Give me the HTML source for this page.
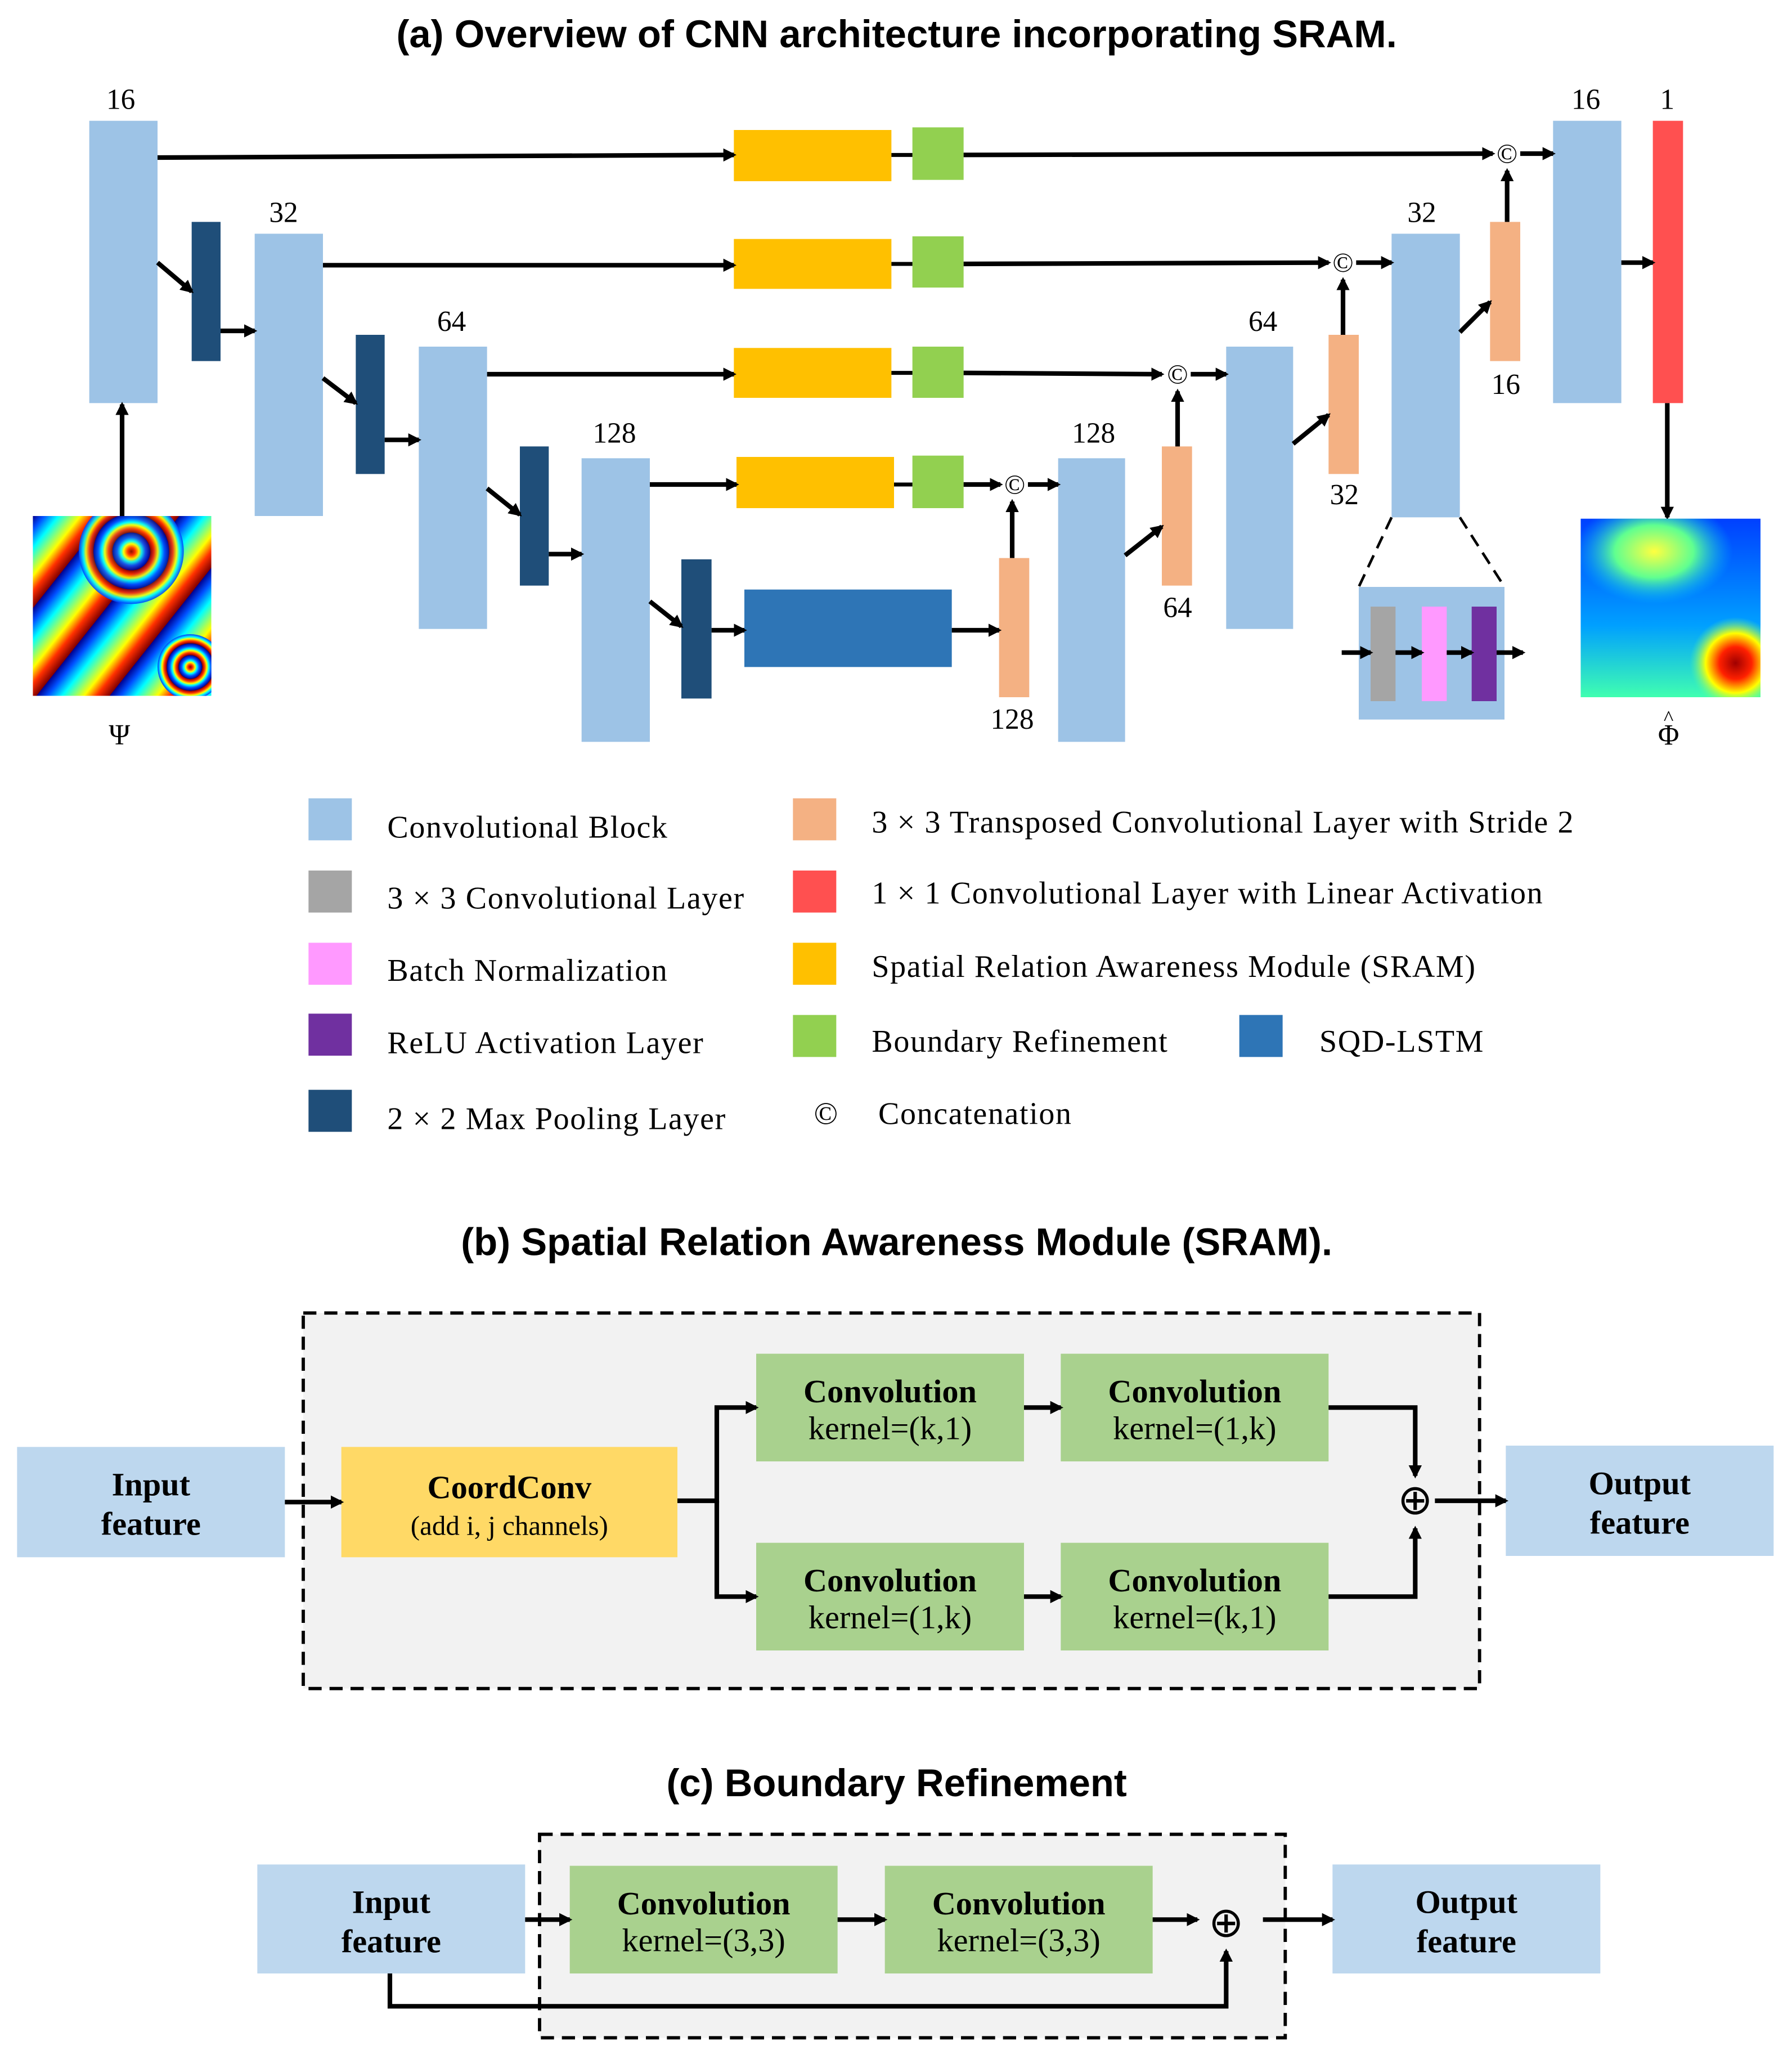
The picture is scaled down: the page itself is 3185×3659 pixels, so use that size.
<!DOCTYPE html>
<html><head><meta charset="utf-8"><style>html,body{margin:0;padding:0;background:#fff}</style></head>
<body>
<svg xmlns="http://www.w3.org/2000/svg" width="3185" height="3654" viewBox="0 0 1365 1566">
<defs>
<marker id="a" markerWidth="10" markerHeight="10" refX="8" refY="5" orient="auto" markerUnits="userSpaceOnUse"><path d="M0,0 L10,5 L0,10 z" fill="#000"/></marker>
<linearGradient id="jet" x1="0" y1="0" x2="0.25" y2="0.2" spreadMethod="repeat">
<stop offset="0" stop-color="#00008f"/><stop offset="0.15" stop-color="#0050ff"/><stop offset="0.35" stop-color="#00ffff"/><stop offset="0.5" stop-color="#80ff80"/><stop offset="0.65" stop-color="#ffff00"/><stop offset="0.82" stop-color="#ff3000"/><stop offset="1" stop-color="#800000"/></linearGradient>
<radialGradient id="ring" cx="0.5" cy="0.5" r="0.18" spreadMethod="repeat">
<stop offset="0" stop-color="#800000"/><stop offset="0.2" stop-color="#ff3000"/><stop offset="0.4" stop-color="#ffff00"/><stop offset="0.55" stop-color="#00ffff"/><stop offset="0.75" stop-color="#0050ff"/><stop offset="1" stop-color="#00008f"/></radialGradient>
<radialGradient id="yb" cx="0.5" cy="0.5" r="0.5"><stop offset="0" stop-color="#ffff40"/><stop offset="0.5" stop-color="#60ff90"/><stop offset="1" stop-color="#00c0ff" stop-opacity="0"/></radialGradient>
<radialGradient id="rb" cx="0.5" cy="0.5" r="0.5"><stop offset="0" stop-color="#a00000"/><stop offset="0.35" stop-color="#ff2000"/><stop offset="0.65" stop-color="#ffff00"/><stop offset="1" stop-color="#60ff90" stop-opacity="0"/></radialGradient>
<linearGradient id="bg2" x1="0" y1="0" x2="0" y2="1"><stop offset="0" stop-color="#0040ff"/><stop offset="0.6" stop-color="#00a0ff"/><stop offset="1" stop-color="#40ffb0"/></linearGradient>
<clipPath id="c1"><rect x="25" y="393" width="136" height="137"/></clipPath>
<clipPath id="c2"><rect x="1204" y="395" width="137" height="136"/></clipPath>
</defs>
<style>
.t{font-family:"Liberation Sans",sans-serif;font-weight:bold;font-size:29.5px;text-anchor:middle}
.s{font-family:"Liberation Serif",serif;font-size:24px;letter-spacing:0.7px}
.n{font-family:"Liberation Serif",serif;font-size:22px;text-anchor:middle}
.bx{font-family:"Liberation Serif",serif;font-size:25px;text-anchor:middle}
.b{font-weight:bold}
line,path.l{stroke:#000;stroke-width:3.5;fill:none}
</style>
<text class="t" x="683" y="36">(a) Overview of CNN architecture incorporating SRAM.</text>
<g fill="#9DC3E6">
<rect x="68" y="92" width="52" height="215"/><rect x="194" y="178" width="52" height="215"/><rect x="319" y="264" width="52" height="215"/><rect x="443" y="349" width="52" height="216"/>
<rect x="806" y="349" width="51" height="216"/><rect x="934" y="264" width="51" height="215"/><rect x="1060" y="178" width="52" height="216"/><rect x="1183" y="92" width="52" height="215"/>
<rect x="1035" y="447" width="111" height="101"/></g>
<g fill="#1F4E79"><rect x="146" y="169" width="22" height="106"/><rect x="271" y="255" width="22" height="106"/><rect x="396" y="340" width="22" height="106"/><rect x="519" y="426" width="23" height="106"/></g>
<rect x="567" y="449" width="158" height="59" fill="#2E75B6"/>
<g fill="#FFC000"><rect x="559" y="99" width="120" height="39"/><rect x="559" y="182" width="120" height="38"/><rect x="559" y="265" width="120" height="38"/><rect x="561" y="348" width="120" height="39"/></g>
<g fill="#92D050"><rect x="695" y="97" width="39" height="40"/><rect x="695" y="180" width="39" height="39"/><rect x="695" y="264" width="39" height="39"/><rect x="695" y="347" width="39" height="40"/></g>
<g fill="#F4B183"><rect x="761" y="425" width="23" height="106"/><rect x="885" y="340" width="23" height="106"/><rect x="1012" y="255" width="23" height="106"/><rect x="1135" y="169" width="23" height="106"/></g>
<rect x="1259" y="92" width="23" height="215" fill="#FF5050"/>
<rect x="1044" y="462" width="19" height="72" fill="#A5A5A5"/><rect x="1083" y="462" width="19" height="72" fill="#FF99FF"/><rect x="1121" y="462" width="19" height="72" fill="#7030A0"/>
<g class="n"><text x="92" y="83">16</text><text x="216" y="169">32</text><text x="344" y="252">64</text><text x="468" y="337">128</text>
<text x="833" y="337">128</text><text x="962" y="252">64</text><text x="1083" y="169">32</text><text x="1208" y="83">16</text><text x="1270" y="83">1</text>
<text x="771" y="555">128</text><text x="897" y="470">64</text><text x="1024" y="384">32</text><text x="1147" y="300">16</text>
<text x="91" y="567">Ψ</text><text x="1271" y="567">Φ</text><text x="1271" y="552" style="font-size:16px">^</text></g>
<g class="n" style="font-size:21px"><text x="773" y="376">©</text><text x="897" y="292">©</text><text x="1023" y="207">©</text><text x="1148" y="124">©</text></g>
<g marker-end="url(#a)">
<line x1="120" y1="120" x2="559" y2="118"/><line x1="734" y1="118" x2="1137" y2="117"/>
<line x1="246" y1="202" x2="559" y2="202"/><line x1="734" y1="201" x2="1012" y2="200"/>
<line x1="371" y1="285" x2="559" y2="285"/><line x1="734" y1="284" x2="885" y2="285"/>
<line x1="495" y1="369" x2="561" y2="369"/><line x1="734" y1="369" x2="762" y2="369"/>
<line x1="783" y1="369" x2="806" y2="369"/><line x1="907" y1="285" x2="934" y2="285"/><line x1="1033" y1="200" x2="1060" y2="200"/><line x1="1158" y1="117" x2="1183" y2="117"/>
<line x1="771" y1="425" x2="771" y2="382"/><line x1="897" y1="340" x2="897" y2="298"/><line x1="1023" y1="255" x2="1023" y2="213"/><line x1="1148" y1="169" x2="1148" y2="130"/>
<line x1="120" y1="200" x2="146" y2="222"/><line x1="168" y1="252" x2="194" y2="252"/><line x1="246" y1="288" x2="271" y2="307"/><line x1="293" y1="335" x2="319" y2="335"/>
<line x1="371" y1="372" x2="396" y2="392"/><line x1="418" y1="422" x2="443" y2="422"/><line x1="495" y1="458" x2="519" y2="477"/><line x1="542" y1="480" x2="567" y2="480"/>
<line x1="725" y1="480" x2="761" y2="480"/><line x1="857" y1="423" x2="885" y2="401"/><line x1="985" y1="338" x2="1012" y2="316"/><line x1="1112" y1="253" x2="1135" y2="230"/>
<line x1="1235" y1="200" x2="1259" y2="200"/><line x1="1270" y1="307" x2="1270" y2="394"/><line x1="93" y1="393" x2="93" y2="308"/>
<line x1="1022" y1="497" x2="1044" y2="497"/><line x1="1063" y1="497" x2="1083" y2="497"/><line x1="1102" y1="497" x2="1121" y2="497"/><line x1="1140" y1="497" x2="1160" y2="497"/>
</g>
<line x1="679" y1="118" x2="695" y2="118" style="stroke-width:3"/><line x1="679" y1="201" x2="695" y2="201" style="stroke-width:3"/><line x1="679" y1="284" x2="695" y2="284" style="stroke-width:3"/><line x1="681" y1="369" x2="695" y2="369" style="stroke-width:3"/>
<line x1="1060" y1="394" x2="1035" y2="447" style="stroke-width:2;stroke-dasharray:10 6"/><line x1="1112" y1="394" x2="1146" y2="447" style="stroke-width:2;stroke-dasharray:10 6"/>
<g clip-path="url(#c1)">
<rect x="25" y="393" width="136" height="137" fill="url(#jet)"/>
<circle cx="100" cy="420" r="40" fill="url(#ring)" opacity="0.9"/>
<circle cx="145" cy="508" r="25" fill="url(#ring)"/>
</g>
<g clip-path="url(#c2)">
<rect x="1204" y="395" width="137" height="136" fill="url(#bg2)"/>
<ellipse cx="1260" cy="420" rx="60" ry="40" fill="url(#yb)"/>
<ellipse cx="1322" cy="505" rx="35" ry="35" fill="url(#rb)"/>
</g>
<rect x="235" y="608" width="33" height="32" fill="#9DC3E6"/>
<rect x="235" y="663" width="33" height="32" fill="#A5A5A5"/><rect x="235" y="718" width="33" height="32" fill="#FF99FF"/><rect x="235" y="772" width="33" height="32" fill="#7030A0"/><rect x="235" y="830" width="33" height="32" fill="#1F4E79"/>
<rect x="604" y="608" width="33" height="32" fill="#F4B183"/><rect x="604" y="663" width="33" height="32" fill="#FF5050"/><rect x="604" y="718" width="33" height="32" fill="#FFC000"/><rect x="604" y="773" width="33" height="32" fill="#92D050"/><rect x="944" y="773" width="33" height="32" fill="#2E75B6"/>
<g class="s"><text x="295" y="638">Convolutional Block</text><text x="295" y="692">3 × 3 Convolutional Layer</text><text x="295" y="747">Batch Normalization</text><text x="295" y="802">ReLU Activation Layer</text><text x="295" y="860">2 × 2 Max Pooling Layer</text>
<text x="664" y="634">3 × 3 Transposed Convolutional Layer with Stride 2</text><text x="664" y="688">1 × 1 Convolutional Layer with Linear Activation</text><text x="664" y="744">Spatial Relation Awareness Module (SRAM)</text><text x="664" y="801">Boundary Refinement</text><text x="1005" y="801">SQD-LSTM</text>
<text x="620" y="856">©</text><text x="669" y="856">Concatenation</text></g>

<text class="t" x="683" y="956">(b) Spatial Relation Awareness Module (SRAM).</text>
<rect x="231" y="1000" width="896" height="286" fill="#F2F2F2" stroke="#000" stroke-width="2.5" stroke-dasharray="10 6"/>
<rect x="13" y="1102" width="204" height="84" fill="#BDD7EE"/><rect x="1147" y="1101" width="204" height="84" fill="#BDD7EE"/>
<rect x="260" y="1102" width="256" height="84" fill="#FFD966"/>
<g fill="#A9D18E"><rect x="576" y="1031" width="204" height="82"/><rect x="808" y="1031" width="204" height="82"/><rect x="576" y="1175" width="204" height="82"/><rect x="808" y="1175" width="204" height="82"/></g>
<g class="bx"><text x="115" y="1139" class="b">Input</text><text x="115" y="1169" class="b">feature</text><text x="1249" y="1138" class="b">Output</text><text x="1249" y="1168" class="b">feature</text>
<text x="388" y="1141" class="b">CoordConv</text><text x="388" y="1169" style="font-size:21px">(add i, j  channels)</text>
<text x="678" y="1068" class="b">Convolution</text><text x="678" y="1096">kernel=(k,1)</text><text x="910" y="1068" class="b">Convolution</text><text x="910" y="1096">kernel=(1,k)</text>
<text x="678" y="1212" class="b">Convolution</text><text x="678" y="1240">kernel=(1,k)</text><text x="910" y="1212" class="b">Convolution</text><text x="910" y="1240">kernel=(k,1)</text>
<text x="1078" y="1153" style="font-size:32px">⊕</text></g>
<g marker-end="url(#a)"><line x1="217" y1="1144" x2="260" y2="1144"/><path class="l" d="M516,1143 H546 V1072 H576"/><path class="l" d="M546,1143 V1216 H576"/>
<line x1="780" y1="1072" x2="808" y2="1072"/><line x1="780" y1="1216" x2="808" y2="1216"/><path class="l" d="M1012,1072 H1078 V1124"/><path class="l" d="M1012,1216 H1078 V1164"/><line x1="1093" y1="1143" x2="1147" y2="1143"/></g>

<text class="t" x="683" y="1368">(c) Boundary Refinement</text>
<rect x="411" y="1397" width="568" height="155" fill="#F2F2F2" stroke="#000" stroke-width="2.5" stroke-dasharray="10 6"/>
<rect x="196" y="1420" width="204" height="83" fill="#BDD7EE"/><rect x="1015" y="1420" width="204" height="83" fill="#BDD7EE"/>
<rect x="434" y="1421" width="204" height="82" fill="#A9D18E"/><rect x="674" y="1421" width="204" height="82" fill="#A9D18E"/>
<g class="bx"><text x="298" y="1457" class="b">Input</text><text x="298" y="1487" class="b">feature</text><text x="1117" y="1457" class="b">Output</text><text x="1117" y="1487" class="b">feature</text>
<text x="536" y="1458" class="b">Convolution</text><text x="536" y="1486">kernel=(3,3)</text><text x="776" y="1458" class="b">Convolution</text><text x="776" y="1486">kernel=(3,3)</text>
<text x="934" y="1475" style="font-size:32px">⊕</text></g>
<g marker-end="url(#a)"><line x1="400" y1="1462" x2="434" y2="1462"/><line x1="638" y1="1462" x2="674" y2="1462"/><line x1="878" y1="1462" x2="912" y2="1462"/><line x1="962" y1="1462" x2="1015" y2="1462"/>
<path class="l" d="M297,1503 V1528 H934 V1486"/></g>
</svg>
</body></html>
